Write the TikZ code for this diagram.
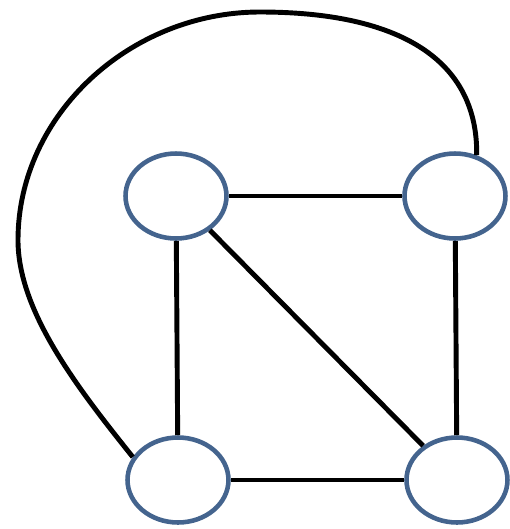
\documentclass[tikz,border=0pt]{standalone}
\usepackage{tikz}
\usetikzlibrary{shapes.geometric}
\definecolor{vblue}{RGB}{68,100,142}

\begin{document}
\begin{tikzpicture}[
  x=0.02cm, y=-0.02cm,
  vtx/.style={ellipse, draw=vblue, line width=2.6pt, fill=white,
              minimum width=2.02cm, minimum height=1.7cm, inner sep=0pt},
  edge/.style={line width=2.8pt, black}
]
  \useasboundingbox (0,0) rectangle (510,529);
  \node[vtx] (tl) at (176,196) {};
  \node[vtx] (tr) at (455,196) {};
  \node[vtx] (bl) at (178,480) {};
  \node[vtx] (br) at (457,480) {};
  \draw[edge] (tl) -- (tr);
  \draw[edge] (bl) -- (br);
  \draw[edge] (tl) -- (bl);
  \draw[edge] (tr) -- (br);
  \draw[edge] (tl) -- (br);
  % bogen links herum und oben drueber
  \draw[edge] (bl.153) .. controls (75,385) and (18,310) .. (18,240)
    .. controls (18,115) and (130,12) .. (260,12)
    .. controls (400,12) and (478,60) .. (tr.62);
\end{tikzpicture}
\end{document}
